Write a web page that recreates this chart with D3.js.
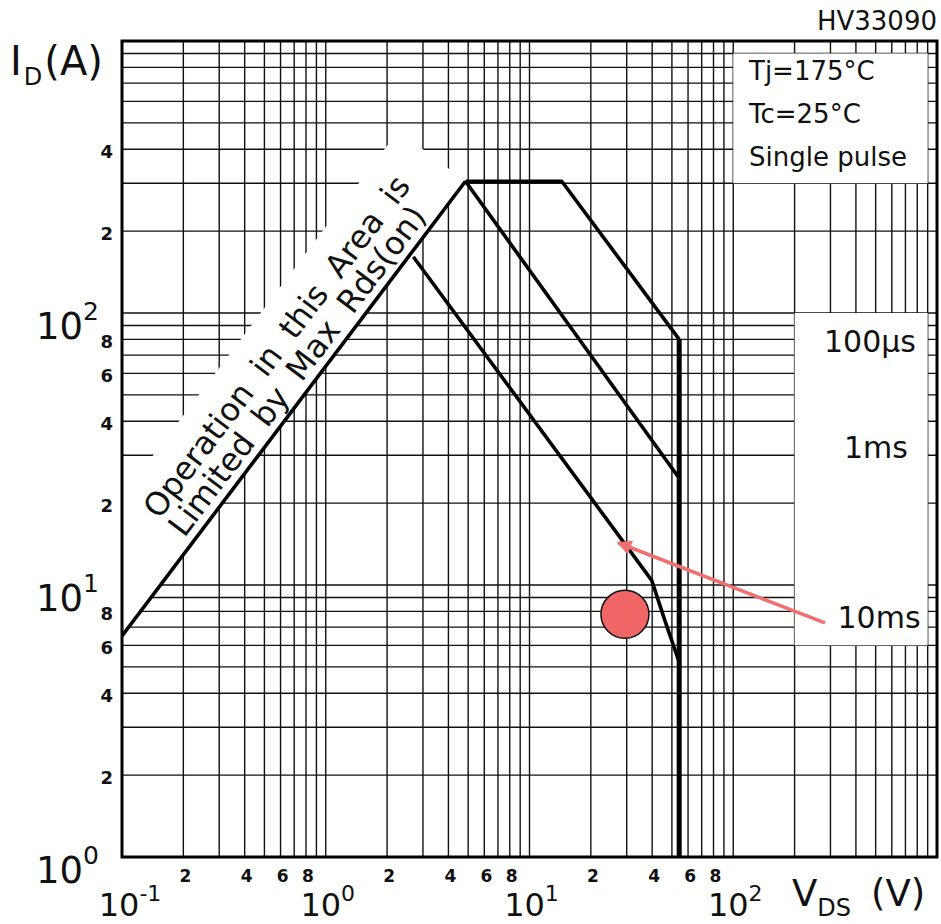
<!DOCTYPE html>
<html><head><meta charset="utf-8">
<script src="https://cdn.jsdelivr.net/npm/d3@7"></script>
<style>body{margin:0;background:#fff}svg{display:block}</style>
</head><body><svg id="c" width="941" height="924"></svg>
<script>
// ---- data ----
const xDecades = [0.1, 1, 10, 100];
const xMajorExp = ["-1", "0", "1", "2"];
const yDecades = [1, 10, 100];
const yMajorExp = ["0", "1", "2"];
const multiples = [1, 2, 3, 4, 5, 6, 7, 8, 9];
const xMinorLabelValues = [0.2, 0.4, 0.6, 0.8, 2, 4, 6, 8, 20, 40, 60, 80];
const xMinorLabels = ["2", "4", "6", "8", "2", "4", "6", "8", "2", "4", "6", "8"];
const yMinorLabelValues = [2, 4, 6, 8, 20, 40, 60, 80, 200, 400];
const yMinorLabels = ["2", "4", "6", "8", "2", "4", "6", "8", "2", "4"];
const rdsLimit = [[0.1, 6.5], [4.85, 305]];
const pulse100us = [[4.85, 305], [14.4, 305], [54.3, 80]];
const pulse1ms = [[4.85, 305], [54.3, 24.7]];
const pulse10ms = [[2.69, 161], [39.8, 10.4], [46.2, 7.4], [54.3, 5.2]];
const vdsLimit = [[54.3, 80], [54.3, 1]];
const conditions = ["Tj=175°C", "Tc=25°C", "Single pulse"];
const pulseLabels = ["100µs", "1ms", "10ms"];
const rdsText = ["Operation in this Area is", "Limited by Max Rds(on)"];
const marker = [29.4, 7.8];
const arrowPts = [[281.8, 7.25], [27.2, 14.3]];

// ---- setup ----
const svg = d3.select("#c");
const L = 122, R = 937, T = 41, B = 857;
const x = d3.scaleLog().domain([0.1, 1000]).range([L, R]);
const y = d3.scaleLog().domain([1, 1000]).range([B, T]);
const FONT = "'DejaVu Sans', sans-serif";

svg.append("rect").attr("width", 941).attr("height", 924).attr("fill", "#fff");
const defs = svg.append("defs");
defs.append("clipPath").attr("id", "plot").append("rect")
  .attr("x", L).attr("y", T).attr("width", R - L).attr("height", B - T);
defs.append("marker").attr("id", "ah").attr("viewBox", "0 0 10 10")
  .attr("refX", 9).attr("refY", 5).attr("markerWidth", 5).attr("markerHeight", 4.2)
  .attr("orient", "auto").attr("markerUnits", "strokeWidth")
  .append("path").attr("d", "M0,0L10,5L0,10Z").attr("fill", "#f07070");

const g = svg.append("g").attr("clip-path", "url(#plot)");

// gridlines
const xGrid = xDecades.flatMap(d => multiples.map(m => d * m)).concat([1000]);
const yGrid = yDecades.flatMap(d => multiples.map(m => d * m)).concat([1000]);
g.selectAll("line.vx").data(xGrid).join("line")
  .attr("x1", d => x(d)).attr("x2", d => x(d)).attr("y1", T).attr("y2", B)
  .attr("stroke", "#111").attr("stroke-width", 1.4);
g.selectAll("line.hy").data(yGrid).join("line")
  .attr("y1", d => y(d)).attr("y2", d => y(d)).attr("x1", L).attr("x2", R)
  .attr("stroke", "#111").attr("stroke-width", 1.4);

// white band behind the rotated text
const P0 = [x(rdsLimit[0][0]), y(rdsLimit[0][1])];
const P1 = [x(rdsLimit[1][0]), y(rdsLimit[1][1])];
const len = Math.hypot(P1[0] - P0[0], P1[1] - P0[1]);
const u = [(P1[0] - P0[0]) / len, (P1[1] - P0[1]) / len];
const n = [u[1], -u[0]]; // toward upper-left
const W = 84;
const S = [P0[0] - 200 * u[0], P0[1] - 200 * u[1]];
g.append("path").attr("fill", "#fff").attr("d",
  `M${S[0]},${S[1]}L${P1[0]},${P1[1]}L${P1[0] + W * n[0]},${P1[1] + W * n[1]}L${S[0] + W * n[0]},${S[1] + W * n[1]}Z`);

// white boxes
g.append("rect").attr("fill", "#fff")
  .attr("x", x(100)).attr("y", y(900)).attr("width", x(900) - x(100)).attr("height", y(300) - y(900));
g.append("rect").attr("fill", "#fff")
  .attr("x", x(200)).attr("y", y(100)).attr("width", x(900) - x(200)).attr("height", y(6) - y(100));

// curves
const line = d3.line().x(d => x(d[0])).y(d => y(d[1]));
[rdsLimit, pulse100us, pulse1ms, pulse10ms].forEach(s => {
  g.append("path").attr("d", line(s)).attr("fill", "none")
    .attr("stroke", "#000").attr("stroke-width", 3.6).attr("stroke-linejoin", "round");
});
g.append("path").attr("d", line(vdsLimit)).attr("fill", "none")
  .attr("stroke", "#000").attr("stroke-width", 5);

// border
svg.append("rect").attr("x", L).attr("y", T).attr("width", R - L).attr("height", B - T)
  .attr("fill", "none").attr("stroke", "#000").attr("stroke-width", 3);

// rotated text
const ang = Math.atan2(P1[1] - P0[1], P1[0] - P0[0]) * 180 / Math.PI;
const tg = svg.append("g").attr("transform", `translate(${P0[0]},${P0[1]}) rotate(${ang})`);
tg.selectAll("text").data(rdsText).join("text")
  .attr("x", (d, i) => i === 0 ? 324 : 317).attr("y", (d, i) => i === 0 ? -40 : -9)
  .attr("text-anchor", "middle").attr("font-family", FONT).attr("font-size", 32)
  .attr("word-spacing", 8)
  .attr("fill", "#111").text(d => d);

// minor tick labels
svg.selectAll("text.xm").data(xMinorLabelValues).join("text")
  .attr("x", d => x(d) + 2).attr("y", 882).attr("text-anchor", "middle")
  .attr("font-family", FONT).attr("font-size", 17).attr("font-weight", "bold").attr("fill", "#111")
  .text((d, i) => xMinorLabels[i]);
svg.selectAll("text.ym").data(yMinorLabelValues).join("text")
  .attr("x", 113).attr("y", d => y(d) + 9).attr("text-anchor", "end")
  .attr("font-family", FONT).attr("font-size", 18).attr("font-weight", "bold").attr("fill", "#111")
  .text((d, i) => yMinorLabels[i]);

// major tick labels
xDecades.forEach((d, i) => {
  const cx = i === 0 ? 130 : x(d) + 2;
  const t = svg.append("text").attr("x", cx).attr("y", 916).attr("text-anchor", "middle")
    .attr("font-family", FONT).attr("font-size", 32).attr("fill", "#111");
  t.append("tspan").text("10");
  t.append("tspan").attr("font-size", 22).attr("dy", -15).text(xMajorExp[i]);
});
yDecades.forEach((d, i) => {
  const t = svg.append("text").attr("x", 36).attr("y", y(d) + 26)
    .attr("font-family", FONT).attr("font-size", 37).attr("fill", "#111");
  t.append("tspan").text("10");
  t.append("tspan").attr("font-size", 25).attr("dy", -19).text(yMajorExp[i]);
});

// axis titles
const yt = svg.append("text").attr("x", 10).attr("y", 75).attr("font-family", FONT)
  .attr("font-size", 40).attr("fill", "#111");
yt.append("tspan").text("I");
yt.append("tspan").attr("font-size", 24).attr("dy", 10).attr("dx", 2).text("D");
yt.append("tspan").attr("dy", -10).attr("dx", 2).text("(A)");
const xt = svg.append("text").attr("x", 792).attr("y", 906).attr("font-family", FONT)
  .attr("font-size", 37).attr("fill", "#111");
xt.append("tspan").text("V");
xt.append("tspan").attr("font-size", 24).attr("dy", 10).text("DS");
xt.append("tspan").attr("dy", -10).attr("dx", 20).text("(V)");

svg.append("text").attr("x", 937).attr("y", 30).attr("text-anchor", "end")
  .attr("font-family", FONT).attr("font-size", 26).attr("fill", "#111").text("HV33090");

// conditions
svg.selectAll("text.cond").data(conditions).join("text")
  .attr("x", 749).attr("y", (d, i) => [80, 123, 166][i])
  .attr("font-family", FONT).attr("font-size", 26).attr("fill", "#111").text(d => d);
// pulse labels
svg.selectAll("text.pl").data(pulseLabels).join("text")
  .attr("x", (d, i) => [870, 876, 879][i]).attr("y", (d, i) => [352, 458, 628][i])
  .attr("text-anchor", "middle")
  .attr("font-family", FONT).attr("font-size", 30).attr("fill", "#111").text(d => d);

// red annotations
svg.append("line")
  .attr("x1", x(arrowPts[0][0])).attr("y1", y(arrowPts[0][1]))
  .attr("x2", x(arrowPts[1][0])).attr("y2", y(arrowPts[1][1]))
  .attr("stroke", "#f07070").attr("stroke-width", 3.5).attr("marker-end", "url(#ah)");
svg.append("circle").attr("cx", x(marker[0])).attr("cy", y(marker[1])).attr("r", 24)
  .attr("fill", "#f06666").attr("stroke", "#111").attr("stroke-width", 1.5);
</script></body></html>
